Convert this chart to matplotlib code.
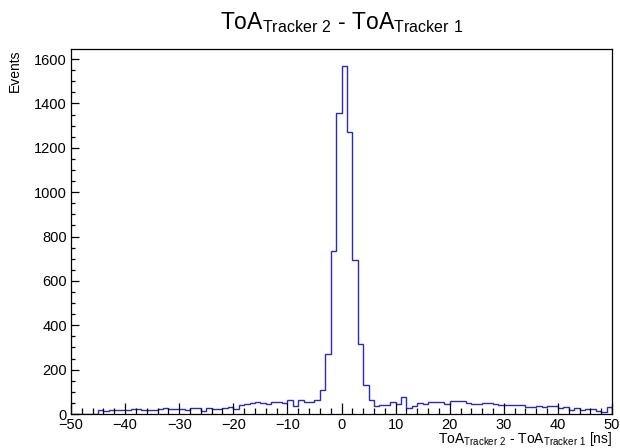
#!/usr/bin/env python3
"""Plot the ToA difference between the two trackers as a ROOT-style histogram.

Bin contents were read off the original ROOT canvas (1 ns bins, -50..50 ns).
"""

import matplotlib

matplotlib.use("Agg")
import matplotlib.pyplot as plt
import numpy as np
from matplotlib.ticker import MultipleLocator


X_MIN = -50
X_MAX = 50
BIN_WIDTH = 1

# counts per 1 ns bin, lower edges -50 .. 49
COUNTS = [
    0, 0, 0, 0, 0,                              # -50 .. -46
    18, 12, 16, 20, 20, 18, 22, 22, 20, 20,     # -45 .. -36
    20, 24, 26, 22, 24, 22, 20, 26, 25, 15,     # -35 .. -26
    28, 24, 22, 28, 30, 22, 42, 46, 50, 52,     # -25 .. -16
    48, 46, 55, 52, 51, 61, 36, 61, 52, 52,     # -15 .. -6
    61, 106, 271, 734, 1357,                    # -5 .. -1
    1567, 1270, 692, 317, 129, 61, 36, 40, 42, 55,   # 0 .. 9
    45, 78, 28, 38, 50, 46, 52, 52, 52, 46,     # 10 .. 19
    60, 60, 60, 48, 44, 44, 51, 51, 44, 39,     # 20 .. 29
    39, 39, 39, 42, 33, 33, 37, 33, 36, 36,     # 30 .. 39
    27, 30, 18, 25, 18, 22, 22, 15, 10, 33,     # 40 .. 49
]

TITLE = r"ToA$_{\mathrm{Tracker\ 2}}$ - ToA$_{\mathrm{Tracker\ 1}}$"
X_LABEL = r"ToA$_{\mathrm{Tracker\ 2}}$ - ToA$_{\mathrm{Tracker\ 1}}$ [ns]"
Y_LABEL = "Events"
LINE_COLOR = "#2a2ab8"


def main() -> None:
    plt.rcParams["font.family"] = ["Liberation Sans", "DejaVu Sans"]
    plt.rcParams["mathtext.fontset"] = "custom"
    plt.rcParams["mathtext.rm"] = "Liberation Sans"
    plt.rcParams["axes.unicode_minus"] = True

    edges = np.arange(X_MIN, X_MAX + BIN_WIDTH, BIN_WIDTH)
    counts = np.array(COUNTS, dtype=float)

    fig = plt.figure(figsize=(6.2, 4.48), dpi=100)
    ax = fig.add_axes([71 / 620, 34 / 448, 541 / 620, 365 / 448])

    ax.stairs(counts, edges, color=LINE_COLOR, linewidth=1.0, baseline=0)

    ax.set_xlim(X_MIN, X_MAX)
    ax.set_ylim(0, 1.05 * counts.max())

    # ROOT style ticks: inside, bottom/left only
    ax.xaxis.set_major_locator(MultipleLocator(10))
    ax.xaxis.set_minor_locator(MultipleLocator(2))
    ax.yaxis.set_major_locator(MultipleLocator(200))
    ax.yaxis.set_minor_locator(MultipleLocator(50))
    ax.tick_params(axis="x", which="major", direction="in", length=8, width=0.9, labelsize=10.5, pad=3)
    ax.tick_params(axis="x", which="minor", direction="in", length=4, width=0.9)
    ax.tick_params(axis="y", which="major", direction="in", length=6, width=0.9, labelsize=10.5, pad=3)
    ax.tick_params(axis="y", which="minor", direction="in", length=3, width=0.9)
    for spine in ax.spines.values():
        spine.set_linewidth(0.9)

    ax.set_title(TITLE, fontsize=16.5, pad=14)
    ax.set_xlabel(X_LABEL, fontsize=10, loc="right", labelpad=-1.5)
    ax.set_ylabel(Y_LABEL, fontsize=10, loc="top", labelpad=9)

    fig.savefig("out.png", dpi=100)
    plt.close(fig)


if __name__ == "__main__":
    main()
